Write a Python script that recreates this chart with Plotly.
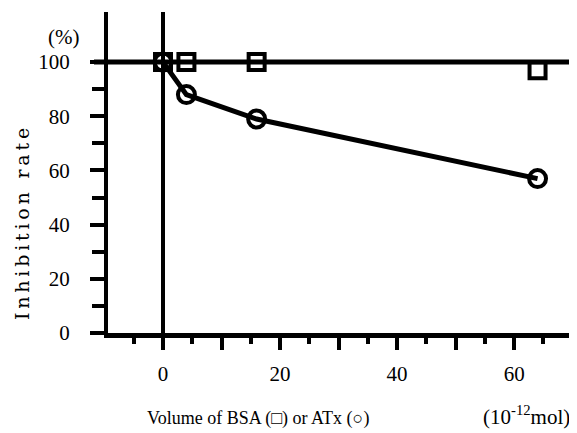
import plotly.graph_objects as go

# Data
bsa_x = [0, 4, 16, 64]
bsa_y = [100, 100, 100, 97]
atx_x = [0, 4, 16, 64]
atx_y = [100, 88, 79, 57]
x_tickvals = [0, 10, 20, 30, 40, 50, 60]
x_ticktext = ["0", "", "20", "", "40", "", "60"]
x_minor = [-5, 5, 15, 25, 35, 45, 55, 65]
y_tickvals = [0, 20, 40, 60, 80, 100]
y_minor = [10, 30, 50, 70, 90]
ref_level = 100

OFF = 8  # page body margin
W, H = 577 - OFF, 433 - OFF
L, R, T, B = 108 - OFF, 2, 12 - OFF, 100
pw, ph = W - L - R, H - T - B

def px(xp):
    return (xp - OFF - L) / pw

def py(yp):
    return (H - B - (yp - OFF)) / ph

fig = go.Figure()
fig.add_shape(type="line", xref="paper", yref="y", x0=-0.03, x1=1, y0=ref_level, y1=ref_level,
              line=dict(color="black", width=5), layer="below")
fig.add_trace(go.Scatter(x=atx_x, y=atx_y, mode="lines+markers",
                         line=dict(color="black", width=5),
                         marker=dict(symbol="circle-open", size=17, color="black",
                                     line=dict(color="black", width=4)),
                         showlegend=False))
fig.add_trace(go.Scatter(x=bsa_x, y=bsa_y, mode="markers",
                         marker=dict(symbol="square-open", size=16, color="black",
                                     line=dict(color="black", width=4)),
                         showlegend=False))

serif = "Liberation Serif"
fig.update_layout(
    width=W, height=H, margin=dict(l=L, r=R, t=T, b=B, autoexpand=False),
    paper_bgcolor="white", plot_bgcolor="white",
    font=dict(family=serif, color="black", size=19),
    xaxis=dict(range=[-9.4, 70.4], showgrid=False, zeroline=True, zerolinecolor="black",
               zerolinewidth=4, showline=True, linecolor="black", linewidth=5,
               tickmode="array", tickvals=x_tickvals, ticktext=x_ticktext,
               ticks="outside", ticklen=12, tickwidth=4, tickcolor="black",
               ticklabelstandoff=6,
               minor=dict(tickmode="array", tickvals=x_minor, ticks="outside",
                          ticklen=6, tickwidth=4, tickcolor="black"),
               tickfont=dict(family=serif, size=21)),
    yaxis=dict(range=[0, 118.5], showgrid=False, zeroline=False,
               showline=True, linecolor="black", linewidth=4,
               tickmode="array", tickvals=y_tickvals,
               ticks="outside", ticklen=14, tickwidth=4, tickcolor="black",
               ticklabelstandoff=16,
               minor=dict(tickmode="array", tickvals=y_minor, ticks="outside",
                          ticklen=12, tickwidth=4, tickcolor="black"),
               tickfont=dict(family=serif, size=21)),
)

def note(xp, yp, text, size, family=serif, angle=0):
    fig.add_annotation(xref="paper", yref="paper", x=px(xp), y=py(yp), text=text,
                       xanchor="center", yanchor="middle", showarrow=False,
                       textangle=angle, font=dict(family=family, size=size))

ts = "\u2009"
note(63, 37, "(%)", 21)
note(22, 224, ts.join("Inhibition") + ts + " " + ts + ts.join("rate"), 19,
     family="DejaVu Serif", angle=-90)
note(258, 418, "Volume of BSA (\u25a1) or ATx (\u25cb)", 18)
note(526, 415, "(10<sup>-12</sup>mol)", 21)

fig.write_html("out.html")
